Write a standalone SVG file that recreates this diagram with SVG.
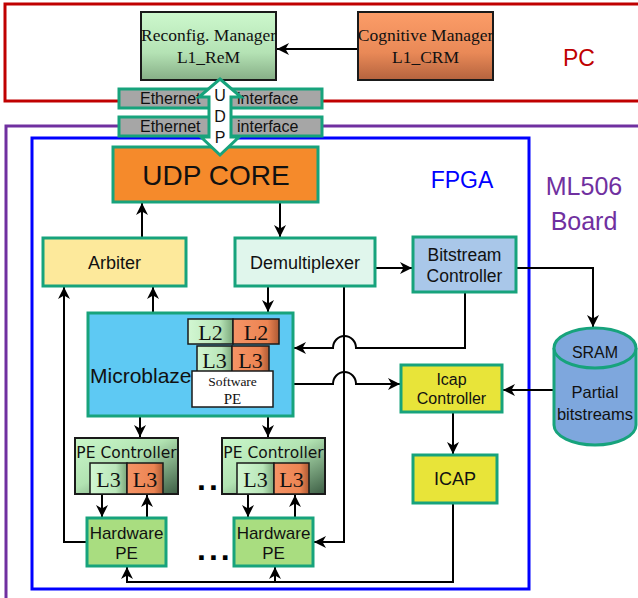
<svg xmlns="http://www.w3.org/2000/svg" width="638" height="598" viewBox="0 0 638 598">
<defs>
<style>
.sans{font-family:"Liberation Sans",Arial,sans-serif;fill:#111}
.serif{font-family:"Liberation Serif","Times New Roman",serif;fill:#111}
.dv{font-family:"DejaVu Sans",Verdana,sans-serif;fill:#111}
.dots{font-family:"Liberation Sans",Arial,sans-serif;fill:#000;font-weight:bold;font-size:32px;letter-spacing:3px}
.gbox{stroke:#17a37c;stroke-width:3}
.dbox{stroke:#1a1a1a;stroke-width:2}
.thin{stroke:#1a1a1a;stroke-width:1.5}
.conn{fill:none;stroke:#000;stroke-width:2}
.arr{marker-end:url(#ah)}
</style>
<marker id="ah" markerUnits="userSpaceOnUse" markerWidth="13" markerHeight="13" refX="12" refY="6.5" orient="auto">
<path d="M0,0.5 L12,6.5 L0,12.5 L3.5,6.5 z" fill="#000"/>
</marker>
<linearGradient id="gGreen" x1="0" y1="0" x2="0" y2="1">
<stop offset="0" stop-color="#cdf8cd"/><stop offset="0.6" stop-color="#b4e2b4"/><stop offset="1" stop-color="#86ae86"/>
</linearGradient>
<linearGradient id="gOrange" x1="0" y1="0" x2="0" y2="1">
<stop offset="0" stop-color="#fc9d68"/><stop offset="0.6" stop-color="#e98957"/><stop offset="1" stop-color="#b4633e"/>
</linearGradient>
<linearGradient id="gL2g" x1="0" y1="0" x2="1" y2="0">
<stop offset="0" stop-color="#d2f7d2"/><stop offset="0.7" stop-color="#b9e6b9"/><stop offset="1" stop-color="#7aa77a"/>
</linearGradient>
<linearGradient id="gL2o" x1="0" y1="0" x2="1" y2="0">
<stop offset="0" stop-color="#f59466"/><stop offset="0.75" stop-color="#ec8452"/><stop offset="1" stop-color="#ad5a34"/>
</linearGradient>
<linearGradient id="gPEC" x1="0" y1="0" x2="1" y2="1">
<stop offset="0" stop-color="#caf7ca"/><stop offset="0.45" stop-color="#b2e3b2"/><stop offset="1" stop-color="#3c5d44"/>
</linearGradient>
</defs>

<g id="containers">
<rect id="pc-box" x="5" y="4" width="645" height="97" fill="none" stroke="#c00000" stroke-width="3"/>
<text class="sans" x="579" y="66" font-size="23" text-anchor="middle" style="fill:#c00000">PC</text>
<rect id="board-box" x="6" y="126" width="650" height="490" fill="none" stroke="#7030a0" stroke-width="3"/>
<text class="sans" x="584" y="195" font-size="25" text-anchor="middle" style="fill:#7030a0">ML506</text>
<text class="sans" x="584" y="230" font-size="25" text-anchor="middle" style="fill:#7030a0">Board</text>
<rect id="fpga-box" x="32" y="138" width="497" height="451" fill="none" stroke="#0000ff" stroke-width="3"/>
<text class="sans" x="462" y="188" font-size="23" text-anchor="middle" style="fill:#0000ff">FPGA</text>
</g>

<g id="connectors">
<path class="conn arr" d="M357,49 H277"/>
<path class="conn arr" d="M142,238 V203"/>
<path class="conn arr" d="M280,203 V237"/>
<path class="conn arr" d="M375,268 H412"/>
<path class="conn arr" d="M516,268 H593 V327"/>
<path class="conn arr" d="M554,390 H503"/>
<path class="conn arr" d="M153,313 V287"/>
<path class="conn arr" d="M268,287 V312"/>
<path class="conn arr" d="M465,292 V348 H356 A11.5,12 0 0 0 333,348 H294"/>
<path class="conn arr" d="M294,384 H333 A11.5,12 0 0 1 356,384 H400"/>
<path class="conn arr" d="M344,287 V542 H314"/>
<path class="conn arr" d="M87,542 H64 V287"/>
<path class="conn arr" d="M140,417 V437"/>
<path class="conn arr" d="M268,417 V437"/>
<path class="conn arr" d="M102,494 V517"/>
<path class="conn arr" d="M147,517 V495"/>
<path class="conn arr" d="M248,494 V517"/>
<path class="conn arr" d="M295,517 V495"/>
<path class="conn arr" d="M453,413 V454"/>
<path class="conn arr" d="M453,504 V582 H127 V567"/>
<path class="conn arr" d="M275,582 V567"/>
</g>

<g id="reconfig-manager">
<rect x="141" y="12" width="135" height="68" fill="url(#gGreen)" class="dbox"/>
<text class="serif" x="208.5" y="41" font-size="17.5" text-anchor="middle">Reconfig. Manager</text>
<text class="serif" x="208.5" y="63" font-size="17.5" text-anchor="middle">L1_ReM</text>
</g>
<g id="cognitive-manager">
<rect x="358" y="12" width="135" height="68" fill="url(#gOrange)" class="dbox"/>
<text class="serif" x="425.5" y="41" font-size="17.5" text-anchor="middle">Cognitive Manager</text>
<text class="serif" x="425.5" y="63" font-size="17.5" text-anchor="middle">L1_CRM</text>
</g>

<g id="ethernet-pc">
<rect x="119" y="89" width="203" height="19" fill="#a6a6a6" class="gbox"/>
<text class="sans" x="140" y="104" font-size="16">Ethernet</text>
<text class="sans" x="237" y="104" font-size="16">interface</text>
</g>
<g id="ethernet-board">
<rect x="119" y="117" width="203" height="19" fill="#a6a6a6" class="gbox"/>
<text class="sans" x="140" y="132" font-size="16">Ethernet</text>
<text class="sans" x="237" y="132" font-size="16">interface</text>
</g>

<g id="udp-core">
<rect x="113" y="147" width="205" height="55" fill="#f58a2b" class="gbox"/>
<text class="sans" x="216" y="185" font-size="28" text-anchor="middle">UDP CORE</text>
</g>

<g id="udp-link">
<polygon points="220,79 241,97 231,97 231,137 239,137 220,155 201,137 209,137 209,97 199,97" fill="#fff" stroke="#17a37c" stroke-width="3" stroke-linejoin="miter"/>
<text class="sans" x="220" y="101" font-size="16" text-anchor="middle">U</text>
<text class="sans" x="220" y="122" font-size="16" text-anchor="middle">D</text>
<text class="sans" x="220" y="143" font-size="16" text-anchor="middle">P</text>
</g>

<g id="arbiter">
<rect x="43" y="238" width="143" height="48" fill="#fde99b" class="gbox"/>
<text class="sans" x="114.5" y="269" font-size="18" text-anchor="middle">Arbiter</text>
</g>
<g id="demultiplexer">
<rect x="235" y="238" width="140" height="48" fill="#e0f6ec" class="gbox"/>
<text class="sans" x="305" y="269" font-size="18" text-anchor="middle">Demultiplexer</text>
</g>
<g id="bitstream-controller">
<rect x="413" y="237" width="103" height="55" fill="#a9c7e9" class="gbox"/>
<text class="sans" x="464.5" y="261" font-size="17.5" text-anchor="middle">Bitstream</text>
<text class="sans" x="464.5" y="282" font-size="17.5" text-anchor="middle">Controller</text>
</g>

<g id="sram">
<path d="M554,348 V425 A41,20 0 0 0 636,425 V348" fill="#7ea7dd" stroke="#17a37c" stroke-width="3"/>
<ellipse cx="595" cy="348" rx="41" ry="20" fill="#7ea7dd" stroke="#17a37c" stroke-width="3"/>
<text class="sans" x="595" y="358" font-size="16" text-anchor="middle">SRAM</text>
<text class="sans" x="595" y="398" font-size="16.5" text-anchor="middle">Partial</text>
<text class="sans" x="595" y="420" font-size="16.5" text-anchor="middle">bitstreams</text>
</g>

<g id="microblaze">
<rect x="88" y="313" width="205" height="103" fill="#5ec9f3" class="gbox"/>
<text class="sans" x="90" y="383" font-size="21">Microblaze</text>
<rect x="188" y="319" width="45" height="25" fill="url(#gL2g)" class="thin"/>
<rect x="233" y="319" width="46" height="25" fill="url(#gL2o)" class="thin"/>
<text class="serif" x="210.5" y="340" font-size="22" text-anchor="middle">L2</text>
<text class="serif" x="256" y="340" font-size="22" text-anchor="middle">L2</text>
<rect x="197" y="346" width="35" height="26" fill="url(#gL2g)" class="thin"/>
<rect x="232" y="346" width="37" height="26" fill="url(#gL2o)" class="thin"/>
<text class="serif" x="214.5" y="368" font-size="22" text-anchor="middle">L3</text>
<text class="serif" x="250.5" y="368" font-size="22" text-anchor="middle">L3</text>
<rect x="192" y="371" width="81" height="36" fill="#fff" class="thin"/>
<text class="serif" x="232.5" y="386" font-size="13.5" text-anchor="middle">Software</text>
<text class="serif" x="232.5" y="404" font-size="15" text-anchor="middle">PE</text>
</g>

<g id="icap-controller">
<rect x="401" y="365" width="101" height="47" fill="#e8e439" class="gbox"/>
<text class="sans" x="451.5" y="385" font-size="16" text-anchor="middle">Icap</text>
<text class="sans" x="451.5" y="404" font-size="16" text-anchor="middle">Controller</text>
</g>
<g id="icap">
<rect x="413" y="455" width="84" height="48" fill="#e8e439" class="gbox"/>
<text class="sans" x="455" y="485" font-size="18" text-anchor="middle">ICAP</text>
</g>

<g id="pe-controller-1">
<rect x="75" y="438" width="103" height="56" fill="url(#gPEC)" class="dbox"/>
<text class="dv" x="126.5" y="458" font-size="15.5" text-anchor="middle">PE Controller</text>
<rect x="90" y="463" width="37" height="31" fill="url(#gL2g)" class="thin"/>
<rect x="127" y="463" width="36" height="31" fill="url(#gL2o)" class="thin"/>
<text class="serif" x="108.5" y="487" font-size="22" text-anchor="middle">L3</text>
<text class="serif" x="145" y="487" font-size="22" text-anchor="middle">L3</text>
</g>
<g id="pe-controller-2">
<rect x="222" y="438" width="103" height="56" fill="url(#gPEC)" class="dbox"/>
<text class="dv" x="273.5" y="458" font-size="15.5" text-anchor="middle">PE Controller</text>
<rect x="237" y="463" width="37" height="31" fill="url(#gL2g)" class="thin"/>
<rect x="274" y="463" width="35" height="31" fill="url(#gL2o)" class="thin"/>
<text class="serif" x="255.5" y="487" font-size="22" text-anchor="middle">L3</text>
<text class="serif" x="291.5" y="487" font-size="22" text-anchor="middle">L3</text>
</g>
<text class="dots" x="197" y="490">..</text>

<g id="hardware-pe-1">
<rect x="87" y="518" width="79" height="48" fill="#a9dd80" class="gbox"/>
<text class="sans" x="126.5" y="539" font-size="17" text-anchor="middle">Hardware</text>
<text class="sans" x="126.5" y="559" font-size="17" text-anchor="middle">PE</text>
</g>
<g id="hardware-pe-2">
<rect x="234" y="518" width="79" height="48" fill="#a9dd80" class="gbox"/>
<text class="sans" x="273.5" y="539" font-size="17" text-anchor="middle">Hardware</text>
<text class="sans" x="273.5" y="559" font-size="17" text-anchor="middle">PE</text>
</g>
<text class="dots" x="197" y="560">...</text>
</svg>
